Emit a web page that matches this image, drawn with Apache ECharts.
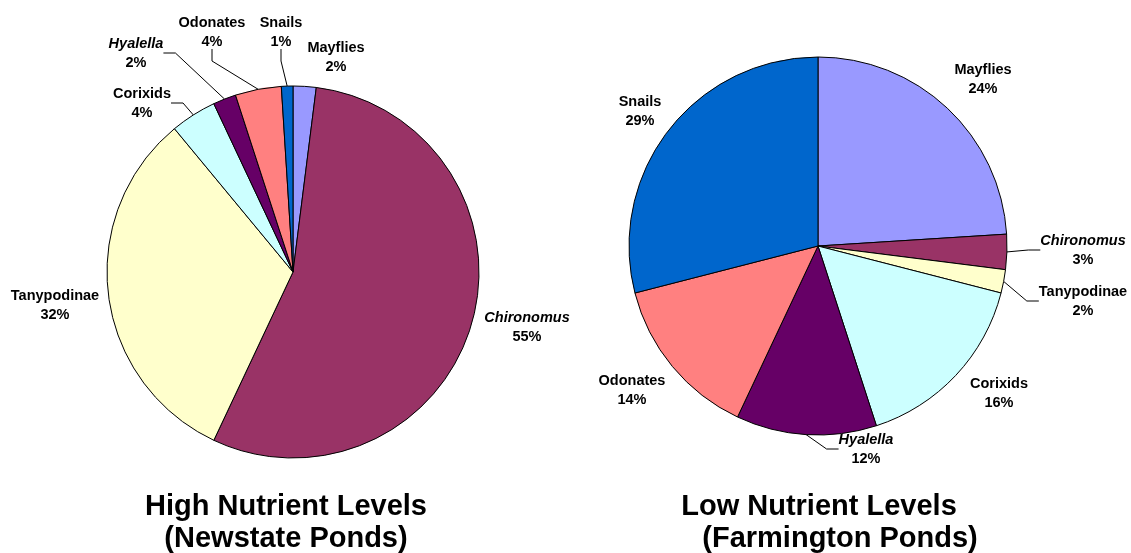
<!DOCTYPE html>
<html><head><meta charset="utf-8">
<script src="https://cdn.jsdelivr.net/npm/echarts@6/dist/echarts.min.js"></script>
<style>html,body{margin:0;padding:0;background:#fff}#c{width:1131px;height:553px}</style>
</head><body><div id="c"></div>
<script>
// ---- data ----
const highCategories = ['Mayflies','Chironomus','Tanypodinae','Corixids','Hyalella','Odonates','Snails'];
const highValues     = [2, 55, 32, 4, 2, 4, 1];
const lowCategories  = ['Mayflies','Chironomus','Tanypodinae','Corixids','Hyalella','Odonates','Snails'];
const lowValues      = [24, 3, 2, 16, 12, 14, 29];
const highTitleLines = ['High Nutrient Levels','(Newstate Ponds)'];
const lowTitleLines  = ['Low Nutrient Levels',' (Farmington Ponds)'];

// ---- styles ----
const colorMap = {
  'Mayflies':'#9999FF','Chironomus':'#993366','Tanypodinae':'#FFFFCC','Corixids':'#CCFFFF',
  'Hyalella':'#660066','Odonates':'#FF8080','Snails':'#0066CC'
};
const italicNames = new Set(['Chironomus','Hyalella']);
const FONT = '"Liberation Sans", Arial, sans-serif';

// label anchor positions (layout)
const labelPos = [
  { // high
    'Mayflies':[336,57],'Chironomus':[527,327],'Tanypodinae':[55,305],'Corixids':[142,103],
    'Hyalella':[136,53],'Odonates':[212,32],'Snails':[281,32]
  },
  { // low
    'Mayflies':[983,79],'Chironomus':[1083,250],'Tanypodinae':[1083,301],'Corixids':[999,393],
    'Hyalella':[866,449],'Odonates':[632,390],'Snails':[640,111]
  }
];
const withLine = [
  new Set(['Corixids','Hyalella','Odonates','Snails']),
  new Set(['Chironomus','Tanypodinae','Hyalella'])
];

function buildData(cats, vals, si){
  return cats.map((c,i)=>({
    name:c, value:vals[i],
    itemStyle:{color:colorMap[c]},
    labelLine:{show:withLine[si].has(c)}
  }));
}

const FS = 14.5;
const labelCfg = {
  show:true, position:'outside', color:'#000',
  formatter:p => (italicNames.has(p.name)?'{i|'+p.name+'}':'{n|'+p.name+'}')+'\n{p|'+p.value+'%}',
  rich:{
    n:{fontFamily:FONT,fontWeight:'bold',fontSize:FS,lineHeight:19,color:'#000',align:'center'},
    i:{fontFamily:FONT,fontWeight:'bold',fontStyle:'italic',fontSize:FS,lineHeight:19,color:'#000',align:'center'},
    p:{fontFamily:FONT,fontWeight:'bold',fontSize:FS,lineHeight:19,color:'#000',align:'center'}
  }
};

function series(cats, vals, si, center, radius){
  return {
    type:'pie', center:center, radius:radius, startAngle:90, clockwise:true,
    avoidLabelOverlap:false, animation:false,
    itemStyle:{borderColor:'#000',borderWidth:1},
    label:labelCfg,
    labelLine:{lineStyle:{color:'#000',width:1},length:12,length2:12},
    emphasis:{disabled:true},
    labelLayout: function(params){
      const name = cats[params.dataIndex];
      const p = labelPos[si][name];
      return {x:p[0], y:p[1], align:'center', verticalAlign:'middle', hideOverlap:false};
    },
    data:buildData(cats, vals, si)
  };
}

const titleRich = {
  a:{fontFamily:FONT,fontWeight:'bold',fontSize:29,lineHeight:32,color:'#000',align:'center'},
  b:{fontFamily:FONT,fontWeight:'bold',fontSize:29,lineHeight:32,color:'#000',align:'center'},
  c:{fontFamily:FONT,fontWeight:'bold',fontSize:29,lineHeight:32,color:'#000',align:'center',padding:[0,0,0,34]}
};

const chart = echarts.init(document.getElementById('c'), null, {renderer:'canvas'});
chart.setOption({
  backgroundColor:'#fff',
  title:[
    {text:'{a|'+highTitleLines[0]+'}\n{b|'+highTitleLines[1]+'}',left:281,top:486,textAlign:'center',
     textStyle:{rich:titleRich}},
    {text:'{a|'+lowTitleLines[0]+'}\n{c|'+lowTitleLines[1]+'}',left:814,top:486,textAlign:'center',
     textStyle:{rich:titleRich}}
  ],
  series:[
    series(highCategories, highValues, 0, [293,272], 186),
    series(lowCategories, lowValues, 1, [818,246], 189)
  ]
});
</script>
</body></html>
